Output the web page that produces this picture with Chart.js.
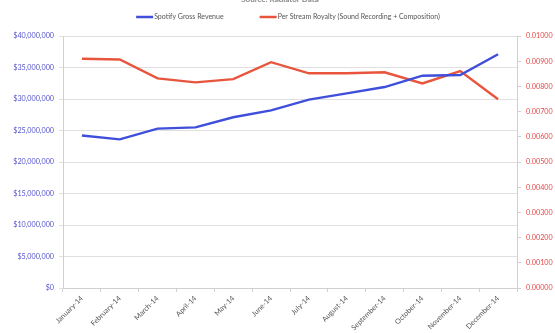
<!DOCTYPE html>
<html><head><meta charset="utf-8">
<script src="https://cdn.jsdelivr.net/npm/chart.js@4"></script>
<style>html,body{margin:0;padding:0;background:#fff}#w{width:555px;height:333px;position:relative}</style>
</head><body><div id="w"><canvas id="c" width="555" height="333"></canvas></div>
<script>
const months = ["January-14","February-14","March-14","April-14","May-14","June-14","July-14","August-14","September-14","October-14","November-14","December-14"];
const grossRevenue = [24200000,23600000,25300000,25500000,27100000,28200000,29900000,30900000,31900000,33700000,33800000,37100000];
const perStreamRoyalty = [0.00910,0.00907,0.00832,0.00816,0.00829,0.00896,0.00852,0.00852,0.00856,0.00812,0.00861,0.00749];
const titleText = "Source: Radiator Data";

const FONT = "Lato, 'Open Sans', sans-serif";
const topTitle = {
  id:'topTitle',
  afterDraw(chart){
    const ctx = chart.ctx; ctx.save();
    ctx.font = "bold 8px " + FONT; ctx.fillStyle = "#888"; ctx.textAlign = "center"; ctx.textBaseline = "alphabetic";
    ctx.fillText(titleText, 280, 2);
    // legend
    ctx.font = "7px " + FONT; ctx.textAlign = "left"; ctx.textBaseline = "middle";
    const sets = chart.data.datasets;
    const lineW = 17, gapText = 1, gapItem = 36, y = 17;
    const widths = sets.map(d => lineW + gapText + ctx.measureText(d.label).width);
    const total = widths.reduce((a,b)=>a+b,0) + gapItem*(sets.length-1);
    let x = 288 - total/2;
    sets.forEach((d,i) => {
      ctx.strokeStyle = d.borderColor; ctx.lineWidth = 2.5;
      ctx.beginPath(); ctx.moveTo(x, y); ctx.lineTo(x+lineW, y); ctx.stroke();
      ctx.fillStyle = "#555"; ctx.fillText(d.label, x+lineW+gapText, y);
      x += widths[i] + gapItem;
    });
    ctx.restore();
  }
};
new Chart(document.getElementById('c'), {
  type:'line',
  data:{labels:months, datasets:[
    {label:"Spotify Gross Revenue", data:grossRevenue, borderColor:"#3f4fdb", backgroundColor:"#3f4fdb", borderWidth:2.4, pointRadius:0, yAxisID:'y', tension:0},
    {label:"Per Stream Royalty (Sound Recording + Composition)", data:perStreamRoyalty, borderColor:"#e8553c", backgroundColor:"#e8553c", borderWidth:2.4, pointRadius:0, yAxisID:'y1', tension:0}
  ]},
  options:{
    responsive:false, animation:false,
    layout:{padding:{top:36,left:0,right:0,bottom:0}},
    plugins:{
      legend:{display:false},
      tooltip:{enabled:false}
    },
    scales:{
      x:{offset:true, grid:{display:true, offset:true, drawOnChartArea:false, tickLength:4, color:"#d0d0d0"}, border:{color:"#d0d0d0"},
         ticks:{maxRotation:45, minRotation:45, color:"#555", font:{size:7.2, family:FONT}, padding:2, autoSkip:false},
         afterFit(s){s.height=45;}},
      y:{position:'left', min:0, max:40000000, grid:{color:"#e0e0e0", tickLength:4}, border:{color:"#d0d0d0"},
         ticks:{stepSize:5000000, color:"#5555d0", font:{size:7.2, family:FONT}, padding:5,
           callback:v=>"$"+v.toLocaleString('en-US')},
         afterFit(s){s.width=63;}},
      y1:{position:'right', min:0, max:0.01, grid:{drawOnChartArea:false, color:"#d0d0d0", tickLength:4}, border:{color:"#d0d0d0"},
         ticks:{stepSize:0.001, color:"#e84848", font:{size:7.2, family:FONT}, padding:5,
           callback:v=>Number(v).toFixed(5)},
         afterFit(s){s.width=38;}}
    }
  },
  plugins:[topTitle]
});
</script></body></html>
